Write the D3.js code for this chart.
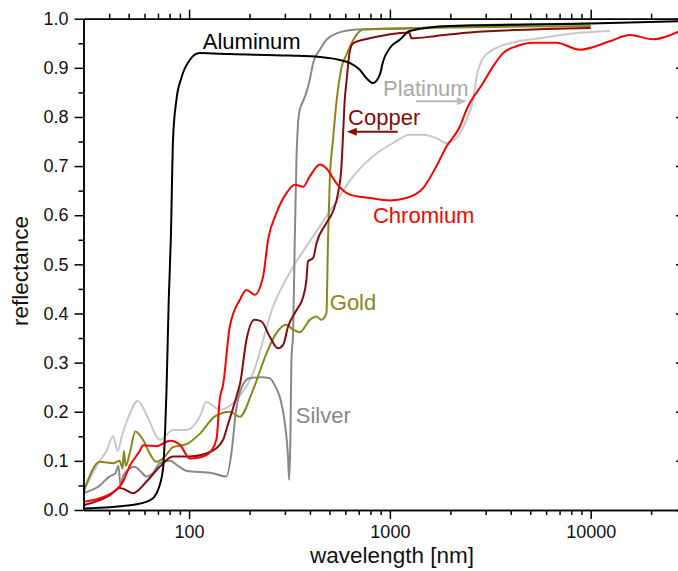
<!DOCTYPE html>
<html lang="en">
    <head>
        <meta charset="utf-8">
        <title>Metal reflectance</title>
        <script type="text/javascript" src="https://cdn.jsdelivr.net/npm/d3@7/dist/d3.min.js"></script>
        <style type="text/css">
        body {
            margin: 0;
            background: white;
        }
        .axis path,
        .axis line {
            fill: none;
            stroke: black;
            stroke-width: 1.5;
        }
        .axis text {
            font-family: "Liberation Sans", Arial, sans-serif;
            font-size: 18px;
            fill: #111;
        }
        .curve {
            fill: none;
            stroke-width: 2;
            stroke-linejoin: round;
        }
        .lbl {
            font-family: "Liberation Sans", Arial, sans-serif;
            font-size: 22px;
        }
        .title {
            font-family: "Liberation Sans", Arial, sans-serif;
            font-size: 22.5px;
            fill: #111;
        }
        </style>
    </head>
    <body>
        <script>
            // reflectance vs wavelength [nm]
            var aluminum = [[30, 0.003], [52, 0.01], [64, 0.02], [69, 0.035], [74, 0.08], [76, 0.163], [77.2, 0.244],
                [79.2, 0.428], [81.1, 0.55], [83.2, 0.754], [86.5, 0.835], [91.6, 0.88], [100.8, 0.916], [113, 0.93],
                [160, 0.928], [317, 0.925], [447, 0.922], [563, 0.916], [631, 0.91], [708, 0.896], [764, 0.879],
                [824, 0.869], [891, 0.886], [925, 0.913], [998, 0.94], [1119, 0.957], [1256, 0.975], [2000, 0.985],
                [10000, 0.99], [27850, 0.995]];

            var silver = [[30, 0.035], [36, 0.05], [40, 0.068], [43, 0.075], [44.5, 0.09], [45.5, 0.05], [47, 0.07],
                [53.7, 0.088], [57, 0.08], [61.4, 0.068], [66, 0.075], [71.4, 0.095], [80.3, 0.1], [88, 0.09],
                [97, 0.08], [131, 0.075], [153, 0.068], [163, 0.12], [171, 0.2], [183, 0.25], [200, 0.268],
                [230, 0.27], [252, 0.268], [270, 0.25], [283, 0.23], [300, 0.177], [311, 0.109], [315, 0.061],
                [320, 0.16], [323, 0.3], [330, 0.367], [336, 0.55], [343, 0.72], [348, 0.78], [356, 0.815],
                [368, 0.83], [384, 0.85], [399, 0.876], [415, 0.91], [448, 0.937], [483, 0.957], [542, 0.97],
                [682, 0.978], [1256, 0.98], [2000, 0.985], [10000, 0.99]];

            var platinum = [[30, 0.04], [35.9, 0.1], [38.8, 0.12], [41.8, 0.15], [44.2, 0.12], [46.2, 0.15],
                [50, 0.19], [55.5, 0.222], [62, 0.19], [68.8, 0.15], [71.4, 0.143], [83.2, 0.163], [97, 0.163],
                [113, 0.19], [122, 0.22], [142, 0.204], [172, 0.224], [208, 0.278], [262, 0.414], [330, 0.495],
                [415, 0.557], [521, 0.618], [656, 0.679], [824, 0.72], [1037, 0.747], [1256, 0.764], [1463, 0.764],
                [1706, 0.757], [1914, 0.747], [2146, 0.757], [2407, 0.794], [2596, 0.835], [2699, 0.88],
                [2912, 0.92], [3266, 0.937], [3954, 0.95], [5579, 0.96], [8150, 0.97], [12450, 0.975]];

            var gold = [[30, 0.04], [36, 0.098], [42, 0.095], [45, 0.1], [46.7, 0.085], [47.3, 0.12], [48.4, 0.09],
                [50.6, 0.115], [54, 0.16], [59, 0.143], [63.7, 0.115], [68.8, 0.098], [74.2, 0.105], [83.2, 0.128],
                [97, 0.134], [113, 0.155], [134, 0.19], [159.5, 0.2], [179, 0.19], [208, 0.244], [243, 0.319],
                [272, 0.36], [305, 0.377], [330, 0.367], [356, 0.362], [399, 0.387], [431, 0.394], [456, 0.387],
                [483, 0.4], [492, 0.55], [502, 0.672], [521, 0.754], [542, 0.83], [574, 0.9], [608, 0.927],
                [682, 0.967], [735, 0.978], [1256, 0.981], [10000, 0.985]];

            var copper = [[30, 0.01], [40.3, 0.03], [45.2, 0.045], [48.8, 0.04], [52.6, 0.034], [61.4, 0.058],
                [71.4, 0.088], [83.2, 0.109], [100.8, 0.109], [126.8, 0.118], [147.7, 0.143], [155, 0.17],
                [172, 0.23], [180, 0.26], [193, 0.346], [212, 0.387], [229, 0.384], [252, 0.353], [277, 0.329],
                [294, 0.336], [311, 0.373], [343, 0.407], [370, 0.434], [384, 0.468], [391, 0.506], [415, 0.513],
                [431, 0.543], [483, 0.584], [521, 0.608], [552, 0.645], [574, 0.7], [585, 0.767], [596, 0.835],
                [608, 0.872], [631, 0.933], [656, 0.95], [735, 0.957], [961, 0.967], [1250, 0.972], [1281, 0.96],
                [1706, 0.965], [2500, 0.972], [10000, 0.981]];

            var chromium = [[30, 0.017], [41.8, 0.036], [46.9, 0.058], [50.7, 0.09], [56.8, 0.12], [59, 0.132],
                [68.8, 0.13], [80.3, 0.141], [89.9, 0.133], [100.8, 0.105], [113, 0.107], [126.8, 0.117],
                [137, 0.145], [142, 0.224], [147.7, 0.255], [159.5, 0.373], [179, 0.428], [193, 0.448],
                [212, 0.438], [233.6, 0.475], [247.4, 0.55], [272, 0.604], [305.5, 0.645], [336, 0.662],
                [370, 0.658], [399, 0.679], [448, 0.703], [483, 0.695], [542, 0.665], [631, 0.642], [794, 0.635],
                [998, 0.63], [1210, 0.635], [1463, 0.655], [1706, 0.7], [1914, 0.74], [2229, 0.78], [2407, 0.815],
                [2912, 0.869], [3266, 0.903], [3662, 0.93], [4271, 0.944], [5166, 0.951], [6756, 0.951],
                [8825, 0.937], [12450, 0.954], [15650, 0.967], [20460, 0.958], [27850, 0.975]];

            var majorX = [100, 1000, 10000];
            var minorX = [40, 50, 60, 70, 80, 90, 200, 300, 400, 500, 600, 700, 800, 900,
                2000, 3000, 4000, 5000, 6000, 7000, 8000, 9000, 20000];
            var majorY = [0, 0.1, 0.2, 0.3, 0.4, 0.5, 0.6, 0.7, 0.8, 0.9, 1.0];
            var minorY = [0.05, 0.15, 0.25, 0.35, 0.45, 0.55, 0.65, 0.75, 0.85, 0.95];

            var w = 678;
            var h = 571;

            var xScale = d3.scaleLog()
              .domain([29.8, 27850])
              .range([83.5, 680]);

            var yScale = d3.scaleLinear()
              .domain([0, 1])
              .range([510, 18.7]);

            var svg = d3.select("body")
              .append("svg")
              .attr("width", w)
              .attr("height", h);

            svg.append("clipPath")
              .attr("id", "plot")
              .append("rect")
              .attr("x", 83.5)
              .attr("y", 18.7)
              .attr("width", 680 - 83.5)
              .attr("height", 510 - 18.7);

            var line = d3.line()
              .x(function(d) { return xScale(d[0]); })
              .y(function(d) { return yScale(d[1]); })
              .curve(d3.curveMonotoneX);

            var series = [
                { data: platinum, color: "#c8c8c8" },
                { data: silver, color: "#888888" },
                { data: gold, color: "#88881a" },
                { data: copper, color: "#850c0c" },
                { data: chromium, color: "#ff0000" },
                { data: aluminum, color: "#000000" }
            ];

            svg.append("g")
              .attr("clip-path", "url(#plot)")
              .selectAll(".curve")
              .data(series)
              .enter().append("path")
              .attr("class", "curve")
              .attr("stroke", function(d) { return d.color; })
              .attr("d", function(d) { return line(d.data); });

            // axes: bottom / top with log ticks, left / right
            function xAxes(axisFn, y, len, minorLen, labels) {
                svg.append("g")
                  .attr("class", "axis")
                  .attr("transform", "translate(0," + y + ")")
                  .call(axisFn(xScale).tickValues(minorX).tickSize(minorLen).tickSizeOuter(0).tickFormat(""));
                var g = svg.append("g")
                  .attr("class", "axis")
                  .attr("transform", "translate(0," + y + ")")
                  .call(axisFn(xScale).tickValues(majorX).tickSize(len).tickSizeOuter(0).tickPadding(6)
                    .tickFormat(labels ? d3.format("d") : ""));
                return g;
            }
            xAxes(d3.axisBottom, 510, 9, 5, true);
            xAxes(d3.axisTop, 18.7, 9, 5, false);

            svg.append("g")
              .attr("class", "axis")
              .attr("transform", "translate(83.5,0)")
              .call(d3.axisLeft(yScale).tickValues(minorY).tickSize(5).tickSizeOuter(0).tickFormat(""));
            svg.append("g")
              .attr("class", "axis")
              .attr("transform", "translate(83.5,0)")
              .call(d3.axisLeft(yScale).tickValues(majorY).tickSize(9).tickSizeOuter(0).tickPadding(6)
                .tickFormat(d3.format(".1f")));

            svg.append("g")
              .attr("class", "axis")
              .attr("transform", "translate(680,0)")
              .call(d3.axisRight(yScale).tickValues(majorY).tickSize(-4).tickSizeOuter(0).tickFormat(""));

            // axis titles
            svg.append("text")
              .attr("class", "title")
              .attr("text-anchor", "middle")
              .attr("x", 392)
              .attr("y", 563)
              .text("wavelength [nm]");

            svg.append("text")
              .attr("class", "title")
              .attr("text-anchor", "middle")
              .attr("transform", "translate(28,271) rotate(-90)")
              .text("reflectance");

            // curve labels
            var labels = [
                { text: "Aluminum", x: 117, y: 0.939, color: "#000000" },
                { text: "Platinum", x: 925, y: 0.842, color: "#a8a8a8" },
                { text: "Copper", x: 619, y: 0.784, color: "#850c0c" },
                { text: "Chromium", x: 824, y: 0.585, color: "#ff0000" },
                { text: "Gold", x: 502, y: 0.407, color: "#88881a" },
                { text: "Silver", x: 340, y: 0.177, color: "#888888" }
            ];

            svg.selectAll(".lbl")
              .data(labels)
              .enter().append("text")
              .attr("class", "lbl")
              .attr("x", function(d) { return xScale(d.x); })
              .attr("y", function(d) { return yScale(d.y); })
              .attr("fill", function(d) { return d.color; })
              .text(function(d) { return d.text; });

            // arrows under Platinum and Copper
            var arrows = [
                { from: 1346, to: 2416, y: 0.832, color: "#bdbdbd" },
                { from: 1094, to: 610, y: 0.770, color: "#850c0c" }
            ];

            arrows.forEach(function(a) {
                var x0 = xScale(a.from);
                var x1 = xScale(a.to);
                var yy = yScale(a.y);
                var dir = x1 > x0 ? 1 : -1;
                svg.append("line")
                  .attr("x1", x0)
                  .attr("x2", x1 - dir * 8)
                  .attr("y1", yy)
                  .attr("y2", yy)
                  .attr("stroke", a.color)
                  .attr("stroke-width", 2);
                svg.append("path")
                  .attr("d", "M" + x1 + "," + yy + "L" + (x1 - dir * 10) + "," + (yy - 4) +
                    "L" + (x1 - dir * 10) + "," + (yy + 4) + "Z")
                  .attr("fill", a.color);
            });
        </script>
    </body>
</html>
